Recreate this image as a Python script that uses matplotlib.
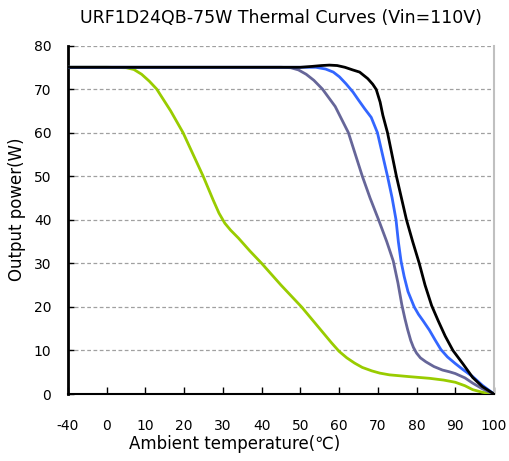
import numpy as np
import matplotlib
matplotlib.use("Agg")
import matplotlib.pyplot as plt

plt.rcParams['font.family'] = ['DejaVu Sans', 'Noto Sans CJK SC']

# tick categories on the x axis (unevenly spaced temperatures)
x_ticks = [-40, 0, 10, 20, 30, 40, 50, 60, 70, 80, 90, 100]
y_ticks = [0, 10, 20, 30, 40, 50, 60, 70, 80]

# black curve
t_black = [-40, 0, 20, 40, 50, 53, 55.5, 57.5, 59.5, 61.5, 63.5, 65.3,
           67.4, 68.7, 69.6, 70.6, 71.3, 72.5, 74.8, 77.4, 79.0, 80.7,
           82.2, 83.9, 85.6, 87.4, 89.4, 92, 94.5, 97, 100]
p_black = [75, 75, 75, 75, 75, 75.2, 75.4, 75.5, 75.4, 75.0, 74.4, 73.9,
           72.4, 71.1, 69.9, 67, 64, 60, 50, 40, 35, 30,
           25, 20.3, 16.8, 13.3, 10, 6.9, 3.8, 1.7, 0]

# blue curve
t_blue = [-40, 0, 20, 40, 50, 54, 56.5, 58.5, 60.1, 61.8, 63.6, 65, 66.6,
          68.3, 69.9, 71.2, 72.5, 73.7, 74.7, 75.3, 76.0, 76.8, 77.8, 79.4,
          80.5, 81.7, 83.3, 84.8, 86.3, 88, 90, 92, 94.5, 97, 100]
p_blue = [75, 75, 75, 75, 75, 75, 74.6, 73.9, 72.8, 71.2, 69.3, 67.5, 65.5,
          63.5, 60, 55, 50, 45, 40, 35, 30.5, 27, 23.5, 20,
          18.3, 16.8, 14.7, 12.4, 10.2, 8.5, 7, 5.6, 4, 2, 0]

# purple curve
t_purple = [-40, 0, 20, 40, 45, 47.5, 49.5, 51.5, 53.5, 55.7, 59, 62.4,
            64.2, 66, 68, 70.2, 72.3, 74.0, 75.2, 76.2, 77, 77.7, 78.5,
            79.2, 80, 81, 82.4, 84.5, 86.7, 88.5, 90, 92.5, 94.5, 97, 100]
p_purple = [75, 75, 75, 75, 75, 74.9, 74.4, 73.4, 72, 70, 66, 60,
            55, 50, 45, 40, 35, 30.5, 25.5, 20.5, 17.3, 14.8, 12.3,
            10.7, 9.4, 8.3, 7.4, 6.3, 5.5, 5.1, 4.7, 3.7, 2.5, 1.2, 0]

# green curve
t_green = [-40, 0, 5, 7, 9, 11, 12.9, 14.7, 16.5, 19.7, 22.3, 24.9, 27.5,
           29, 30.5, 32, 34, 37, 40, 45, 50.3, 55, 58, 60, 62, 64, 66,
           68.5, 70.5, 73, 78, 83.4, 87, 90, 92.5, 94.5, 97, 100]
p_green = [75, 75, 74.9, 74.5, 73.4, 71.8, 70, 67.5, 65, 60, 55, 50, 44.5,
           41.5, 39.2, 37.6, 35.8, 32.8, 30, 25, 20, 15, 11.8, 9.8, 8.3,
           7.1, 6.1, 5.3, 4.8, 4.4, 4.0, 3.6, 3.2, 2.7, 1.9, 1.0, 0.4, 0]


def fwd(t):
    t = np.asarray(t, dtype=float)
    return np.where(t < 0, (t + 40) / 40, 1 + t / 10)


def inv(p):
    p = np.asarray(p, dtype=float)
    return np.where(p < 1, p * 40 - 40, (p - 1) * 10)


fig = plt.figure(figsize=(5.09, 4.61), dpi=100)
ax = fig.add_axes([0.1336, 0.1453, 0.8369, 0.7560])
ax.set_xscale('function', functions=(fwd, inv))

ax.plot(t_green, p_green, color='#99cc00', lw=2, zorder=3)
ax.plot(t_purple, p_purple, color='#666699', lw=2, zorder=4)
ax.plot(t_blue, p_blue, color='#3366ff', lw=2, zorder=5)
ax.plot(t_black, p_black, color='black', lw=2, zorder=6)

ax.set_xlim(-40, 100)
ax.set_ylim(0, 80)
ax.set_xticks(x_ticks)
ax.set_xticklabels([str(v) for v in x_ticks])
ax.set_yticks(y_ticks)

ax.yaxis.grid(True, color='#a0a0a0', linestyle=(0, (3, 2)), lw=0.9)
ax.set_axisbelow(True)

ax.spines['top'].set_visible(False)
ax.spines['right'].set_color('#c0c0c0')
ax.spines['right'].set_linewidth(1.5)
ax.spines['left'].set_linewidth(2)
ax.spines['bottom'].set_linewidth(1.5)

ax.tick_params(axis='x', direction='in', length=5, width=1, pad=18, labelsize=10)
ax.tick_params(axis='y', direction='in', length=4, width=1, pad=12, labelsize=10)

ax.set_title('URF1D24QB-75W Thermal Curves (Vin=110V)', fontsize=12.5, pad=16)
ax.set_xlabel('Ambient temperature(℃)', fontsize=12)
ax.xaxis.set_label_coords(0.392, -0.118)
ax.set_ylabel('Output power(W)', fontsize=12)
ax.yaxis.set_label_coords(-0.098, 0.53)

fig.savefig('out.png', dpi=100)
